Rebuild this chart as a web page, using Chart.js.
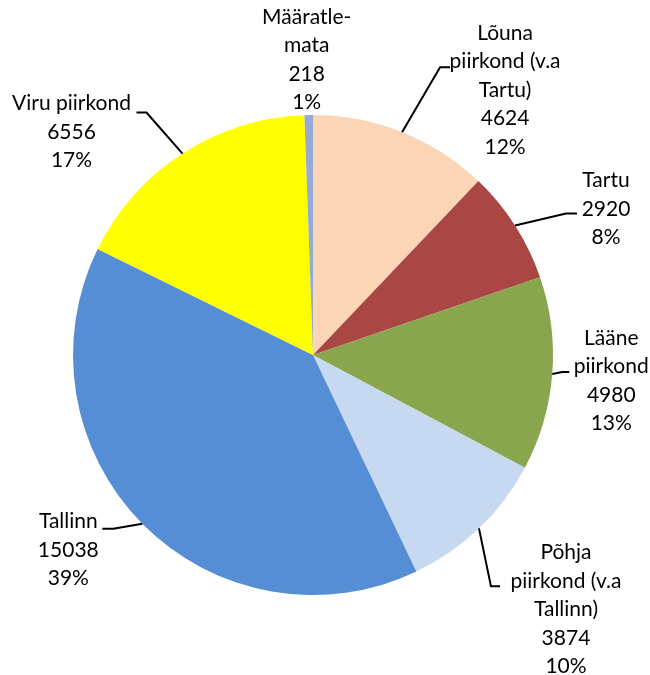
<!DOCTYPE html>
<html>
<head>
<meta charset="utf-8">
<script src="https://cdn.jsdelivr.net/npm/chart.js@4"></script>
<style>
  body { margin: 0; background: #fff; }
</style>
</head>
<body>
<canvas id="pie" width="650" height="675"></canvas>
<script>
// data
const categories = ["Lõuna piirkond (v.a Tartu)", "Tartu", "Lääne piirkond", "Põhja piirkond (v.a Tallinn)", "Tallinn", "Viru piirkond", "Määratlemata"];
const values = [4624, 2920, 4980, 3874, 15038, 6556, 218];
// how the names wrap in the labels
const labelLines = [
    ["Lõuna", "piirkond (v.a", "Tartu)"],
    ["Tartu"],
    ["Lääne", "piirkond"],
    ["Põhja", "piirkond (v.a", "Tallinn)"],
    ["Tallinn"],
    ["Viru piirkond"],
    ["Määratle-", "mata"]
];
const colors = ["#FBD5B5", "#AA4643", "#89A54E", "#C6D9F1", "#558ED5", "#FFFF00", "#95ABD5"];

// label placement, relative to the point on the rim at the slice middle
// tx/ty = text centre x / first line y, ex/ey = elbow of leader line, sx = end of stub
const labelPos = [
    { tx: 103, ty: -99, ex: 38, ey: -65, sx: 48 },
    { tx: 91, ty: -45, ex: 51, ey: -12, sx: 62 },
    { tx: 59, ty: -36, ex: 10, ey: -2, sx: 17 },
    { tx: 87, ty: 24, ex: 12, ey: 58, sx: 21 },
    { tx: -74, ty: -2, ex: -29, ey: 5, sx: -40 },
    { tx: -111, ty: -50, ex: -36, ey: -41, sx: -46 },
    { tx: -2, ty: -98, ex: null }
];

const total = values.reduce((a, b) => a + b, 0);
const lineHeight = 28.5;

const pieLabels = {
    id: "pieLabels",
    afterDatasetsDraw(chart) {
        const ctx = chart.ctx;
        const meta = chart.getDatasetMeta(0);
        ctx.save();
        ctx.font = "21px Lato";
        ctx.fillStyle = "#000";
        ctx.textAlign = "center";
        ctx.textBaseline = "middle";
        meta.data.forEach((arc, i) => {
            const p = arc.getProps(["x", "y", "startAngle", "endAngle", "outerRadius"], true);
            const mid = (p.startAngle + p.endAngle) / 2;
            const rx = p.x + Math.cos(mid) * p.outerRadius;
            const ry = p.y + Math.sin(mid) * p.outerRadius;
            const pos = labelPos[i];

            if (pos.ex !== null) {
                ctx.strokeStyle = "#000";
                ctx.lineWidth = 2;
                ctx.beginPath();
                ctx.moveTo(rx, ry);
                ctx.lineTo(rx + pos.ex, ry + pos.ey);
                ctx.lineTo(rx + pos.sx, ry + pos.ey);
                ctx.stroke();
            }

            const pct = Math.round(values[i] / total * 100) + "%";
            const lines = labelLines[i].concat([String(values[i]), pct]);
            lines.forEach((t, k) => {
                ctx.fillText(t, rx + pos.tx, ry + pos.ty + k * lineHeight);
            });
        });
        ctx.restore();
    }
};

const pieChart = new Chart(document.getElementById("pie"), {
    type: "pie",
    data: {
        labels: categories,
        datasets: [{
            data: values,
            backgroundColor: colors,
            borderWidth: 0
        }]
    },
    options: {
        responsive: false,
        animation: false,
        events: [],
        layout: { padding: { left: 73, right: 97, top: 115, bottom: 80 } },
        plugins: {
            legend: { display: false },
            tooltip: { enabled: false }
        }
    },
    plugins: [pieLabels]
});
</script>
</body>
</html>
